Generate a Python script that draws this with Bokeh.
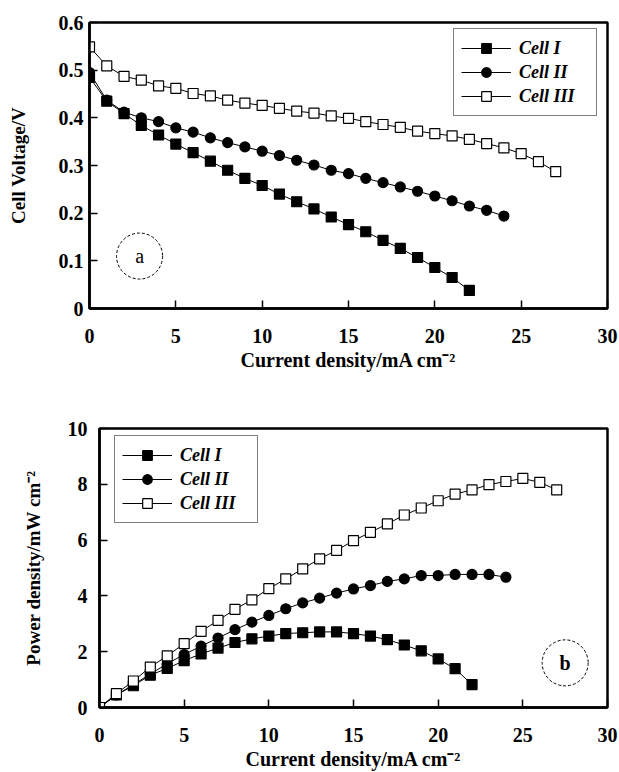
from bokeh.plotting import figure
from bokeh.models import (Range1d, FixedTicker, CustomJSTickFormatter, Legend, LegendItem, Label)
from bokeh.embed import file_html
from bokeh.resources import INLINE

# ---------------- data ----------------
cur_I = [0, 1, 2, 3, 4, 5, 6, 7, 8, 9, 10, 11, 12, 13, 14, 15, 16, 17, 18, 19, 20, 21, 22]
cur_II = [0, 1, 2, 3, 4, 5, 6, 7, 8, 9, 10, 11, 12, 13, 14, 15, 16, 17, 18, 19, 20, 21, 22, 23, 24]
cur_III = [0, 1, 2, 3, 4, 5, 6, 7, 8, 9, 10, 11, 12, 13, 14, 15, 16, 17, 18, 19, 20, 21, 22, 23, 24, 25, 26, 27]

volt_I = [0.485, 0.435, 0.409, 0.384, 0.364, 0.345, 0.327, 0.309, 0.290, 0.273, 0.258, 0.240,
          0.224, 0.209, 0.192, 0.176, 0.161, 0.143, 0.126, 0.107, 0.086, 0.065, 0.038]
volt_II = [0.495, 0.437, 0.412, 0.400, 0.392, 0.379, 0.370, 0.358, 0.348, 0.339, 0.330, 0.321,
           0.311, 0.301, 0.290, 0.283, 0.273, 0.264, 0.255, 0.246, 0.236, 0.226, 0.215, 0.206, 0.194]
volt_III = [0.549, 0.509, 0.487, 0.479, 0.467, 0.462, 0.451, 0.446, 0.437, 0.431, 0.426, 0.420,
            0.414, 0.410, 0.404, 0.399, 0.392, 0.386, 0.380, 0.372, 0.367, 0.362, 0.355, 0.346,
            0.337, 0.325, 0.308, 0.287]

pow_I = [0, 0.45, 0.78, 1.16, 1.40, 1.68, 1.92, 2.13, 2.33, 2.46, 2.56, 2.65, 2.68, 2.71, 2.71,
         2.65, 2.56, 2.43, 2.24, 2.03, 1.74, 1.39, 0.82]
pow_II = [0, 0.45, 0.82, 1.20, 1.57, 1.90, 2.20, 2.49, 2.79, 3.06, 3.30, 3.54, 3.75, 3.92, 4.10,
          4.25, 4.37, 4.52, 4.61, 4.73, 4.73, 4.77, 4.77, 4.77, 4.67]
pow_III = [0, 0.50, 0.95, 1.45, 1.85, 2.29, 2.73, 3.12, 3.52, 3.86, 4.26, 4.61, 4.97, 5.33, 5.63,
           5.98, 6.28, 6.58, 6.90, 7.15, 7.41, 7.65, 7.80, 7.99, 8.10, 8.21, 8.07, 7.80]

series_names = ["Cell I", "Cell II", "Cell III"]
x_ticks = [0, 5, 10, 15, 20, 25, 30]
volt_ticks = [0, 0.1, 0.2, 0.3, 0.4, 0.5, 0.6]
pow_ticks = [0, 2, 4, 6, 8, 10]

x_label = "Current density/mA cm\u207b\u00b2"
volt_label = "Cell Voltage/V"
pow_label = "Power density/mW cm\u207b\u00b2"

tag_a = ("a", 2.9, 0.11)
tag_b = ("b", 27.5, 1.6)

FONT = "Liberation Serif"


def style(p, xlabel, ylabel, tick_standoff_y, label_standoff_y):
    p.background_fill_color = "white"
    p.border_fill_color = "white"
    p.outline_line_color = "black"
    p.outline_line_width = 2.5
    p.grid.visible = False
    for ax in (p.xaxis[0], p.yaxis[0]):
        ax.axis_line_width = 2.5
        ax.axis_line_color = "black"
        ax.major_tick_in = 8
        ax.major_tick_out = 0
        ax.major_tick_line_width = 1.5
        ax.major_tick_line_color = "black"
        ax.minor_tick_line_color = None
        ax.major_label_text_font = FONT
        ax.major_label_text_font_style = "bold"
        ax.major_label_text_font_size = "20px"
        ax.major_label_text_color = "black"
        ax.axis_label_text_font = FONT
        ax.axis_label_text_font_style = "bold"
        ax.axis_label_text_color = "black"
    p.xaxis[0].axis_label_text_font_size = "20px"
    p.yaxis[0].axis_label_text_font_size = "19px"
    p.xaxis[0].axis_label = xlabel
    p.yaxis[0].axis_label = ylabel
    p.xaxis[0].major_label_standoff = 20
    p.xaxis[0].axis_label_standoff = 3
    p.yaxis[0].major_label_standoff = tick_standoff_y
    p.yaxis[0].axis_label_standoff = label_standoff_y
    p.xaxis[0].ticker = FixedTicker(ticks=x_ticks)


def add_series(p, xs, ys, marker, fill):
    ln = p.line(xs, ys, line_color="black", line_width=1)
    sc = p.scatter(xs, ys, marker=marker, size=10, fill_color=fill,
                   line_color="black", line_width=1.2)
    return [ln, sc]


def add_legend(p, items, loc):
    leg = Legend(items=items, location=loc, orientation="vertical",
                 glyph_width=50, glyph_height=24, label_height=24, label_width=70,
                 label_standoff=8, padding=7, spacing=0, margin=0,
                 label_text_font=FONT, label_text_font_style="bold italic",
                 label_text_font_size="18px", label_text_color="black",
                 border_line_color="black", border_line_width=1.2,
                 background_fill_color="white", background_fill_alpha=1)
    p.add_layout(leg, "center")


def add_tag(p, tag, weight):
    txt, tx, ty = tag
    p.scatter([tx], [ty], marker="circle", size=46, fill_color=None,
              line_color="black", line_width=1, line_dash="3 2")
    p.add_layout(Label(x=tx, y=ty, text=txt, text_align="center", text_baseline="middle",
                       text_font=FONT, text_font_size="20px", text_font_style=weight,
                       text_color="black"))


# ---------------- figure a ----------------
p1 = figure(width=619, height=376, output_backend="svg", toolbar_location=None,
            x_range=Range1d(0, 30), y_range=Range1d(0, 0.6),
            min_border_left=89, min_border_right=12, min_border_top=22, min_border_bottom=68)
style(p1, x_label, volt_label, 6, 27)
p1.yaxis[0].ticker = FixedTicker(ticks=volt_ticks)
p1.yaxis[0].formatter = CustomJSTickFormatter(code="return tick == 0 ? '0' : tick.toFixed(1);")

r1 = add_series(p1, cur_I, volt_I, "square", "black")
r2 = add_series(p1, cur_II, volt_II, "circle", "black")
r3 = add_series(p1, cur_III, volt_III, "square", "white")
add_legend(p1, [LegendItem(label=series_names[0], renderers=r1),
                LegendItem(label=series_names[1], renderers=r2),
                LegendItem(label=series_names[2], renderers=r3)], (364, 192))
add_tag(p1, tag_a, "normal")

# ---------------- figure b ----------------
p2 = figure(width=619, height=396, output_backend="svg", toolbar_location=None,
            x_range=Range1d(0, 30), y_range=Range1d(0, 10),
            min_border_left=99, min_border_right=12, min_border_top=52, min_border_bottom=65)
style(p2, x_label, pow_label, 12, 21)
p2.yaxis[0].ticker = FixedTicker(ticks=pow_ticks)

s1 = add_series(p2, cur_I, pow_I, "square", "black")
s2 = add_series(p2, cur_II, pow_II, "circle", "black")
s3 = add_series(p2, cur_III, pow_III, "square", "white")
add_legend(p2, [LegendItem(label=series_names[0], renderers=s1),
                LegendItem(label=series_names[1], renderers=s2),
                LegendItem(label=series_names[2], renderers=s3)], (15, 184))
add_tag(p2, tag_b, "bold")

open("out.html", "w").write(file_html([p1, p2], INLINE))
